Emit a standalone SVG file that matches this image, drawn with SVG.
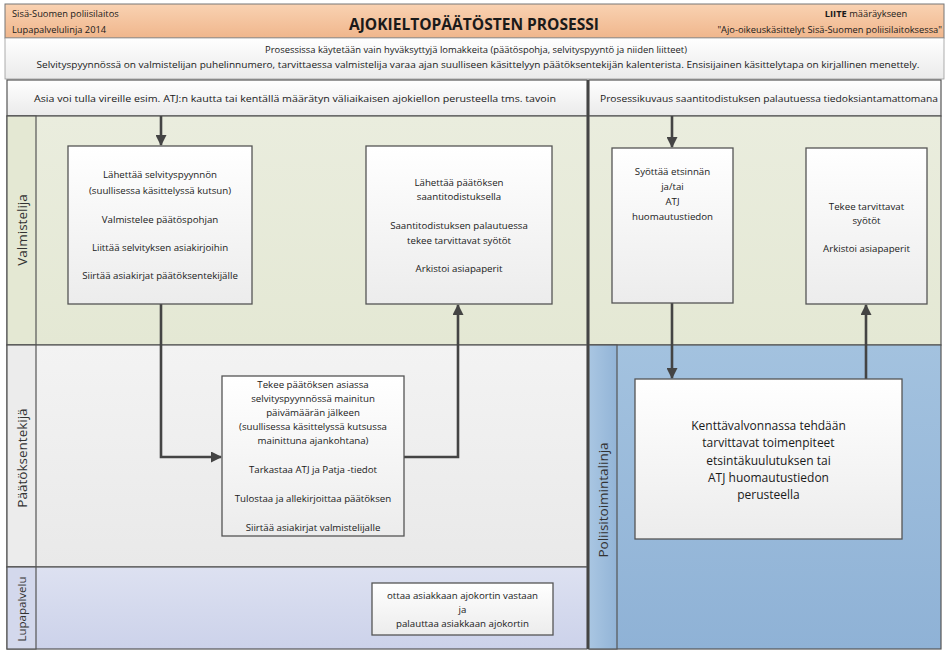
<svg xmlns="http://www.w3.org/2000/svg" width="945" height="652" viewBox="0 0 945 652">
<defs>
<linearGradient id="gHead" x1="0" y1="0" x2="0" y2="1"><stop offset="0" stop-color="#f9d2b2"/><stop offset="1" stop-color="#f0b68c"/></linearGradient>
<linearGradient id="gWhite" x1="0" y1="0" x2="0" y2="1"><stop offset="0" stop-color="#ffffff"/><stop offset="1" stop-color="#eaeaea"/></linearGradient>
<linearGradient id="gBox" x1="0" y1="0" x2="0" y2="1"><stop offset="0" stop-color="#ffffff"/><stop offset="1" stop-color="#ececec"/></linearGradient>
<linearGradient id="gGreen" x1="0" y1="0" x2="0" y2="1"><stop offset="0" stop-color="#eaedde"/><stop offset="1" stop-color="#e4e8d4"/></linearGradient>
<linearGradient id="gGrey" x1="0" y1="0" x2="0" y2="1"><stop offset="0" stop-color="#f3f3f3"/><stop offset="1" stop-color="#e9e9e9"/></linearGradient>
<linearGradient id="gLav" x1="0" y1="0" x2="0" y2="1"><stop offset="0" stop-color="#dde1f1"/><stop offset="1" stop-color="#ccd2ea"/></linearGradient>
<linearGradient id="gBlue" x1="0" y1="0" x2="0" y2="1"><stop offset="0" stop-color="#a3c2df"/><stop offset="1" stop-color="#8fb2d6"/></linearGradient>
<linearGradient id="gBlueL" x1="0" y1="0" x2="1" y2="0"><stop offset="0" stop-color="#a9c6e2"/><stop offset="1" stop-color="#92b4d7"/></linearGradient>
<marker id="arr" markerWidth="11" markerHeight="11" refX="10" refY="5.5" orient="auto" markerUnits="userSpaceOnUse"><path d="M0,0 L11,5.5 L0,11 z" fill="#444"/></marker>
<style>
text{font-family:"Open Sans","Noto Sans","DejaVu Sans",sans-serif;fill:#1a1a1a;}
.bx{fill:url(#gBox);stroke:#555;stroke-width:1.3;}
.t{font-size:9.7px;text-anchor:middle;}
.tb{font-size:12px;text-anchor:middle;}
.lane{stroke:#555;stroke-width:1.2;}
.lbl{font-size:13.5px;text-anchor:middle;fill:#333;}
.con{fill:none;stroke:#444;stroke-width:2.6;}
</style>
</defs>

<g id="header">
<rect x="5" y="4" width="939" height="34" fill="url(#gHead)" stroke="#777" stroke-width="1"/>
<text x="12" y="16.5" style="font-size:9.3px">Sisä-Suomen poliisilaitos</text>
<text x="12" y="32.5" style="font-size:9.3px">Lupapalvelulinja 2014</text>
<text x="474" y="30" style="font-size:16px;font-weight:bold;text-anchor:middle" textLength="250" lengthAdjust="spacingAndGlyphs">AJOKIELTOPÄÄTÖSTEN PROSESSI</text>
<text x="866" y="17" style="font-size:9.3px;text-anchor:middle"><tspan font-weight="bold">LIITE</tspan> määräykseen</text>
<text x="942" y="32.5" style="font-size:9.3px;text-anchor:end">"Ajo-oikeuskäsittelyt Sisä-Suomen poliisilaitoksessa"</text>
</g>

<g id="notes">
<rect x="5" y="38" width="939" height="41" fill="url(#gWhite)" stroke="#999" stroke-width="0.8"/>
<text x="476" y="52.5" style="font-size:8.3px;text-anchor:middle" textLength="422" lengthAdjust="spacingAndGlyphs">Prosessissa käytetään vain hyväksyttyjä lomakkeita (päätöspohja, selvityspyyntö ja niiden liitteet)</text>
<text x="478" y="67.5" style="font-size:8.3px;text-anchor:middle" textLength="883" lengthAdjust="spacingAndGlyphs">Selvityspyynnössä on valmistelijan puhelinnumero, tarvittaessa valmistelija varaa ajan suulliseen käsittelyyn päätöksentekijän kalenterista. Ensisijainen käsittelytapa on kirjallinen menettely.</text>
</g>

<g id="lanes">
<rect x="7" y="80" width="580" height="36" fill="url(#gWhite)" class="lane"/>
<text x="295" y="101.5" style="font-size:9.3px;text-anchor:middle" textLength="522" lengthAdjust="spacingAndGlyphs">Asia voi tulla vireille esim. ATJ:n kautta tai kentällä määrätyn väliaikaisen ajokiellon perusteella tms. tavoin</text>
<rect x="589" y="80" width="352" height="36" fill="url(#gWhite)" class="lane"/>
<text x="769" y="101.5" style="font-size:9.3px;text-anchor:middle" textLength="338" lengthAdjust="spacingAndGlyphs">Prosessikuvaus saantitodistuksen palautuessa tiedoksiantamattomana</text>

<rect x="7" y="116" width="580" height="229" fill="url(#gGreen)" class="lane"/>
<rect x="7" y="116" width="29" height="229" fill="#e4e8d3" class="lane"/>
<text class="lbl" transform="translate(26.5,230) rotate(-90)">Valmistelija</text>

<rect x="7" y="345" width="580" height="222" fill="url(#gGrey)" class="lane"/>
<rect x="7" y="345" width="29" height="222" fill="#ececec" class="lane"/>
<text class="lbl" transform="translate(26.5,458) rotate(-90)">Päätöksentekijä</text>

<rect x="7" y="567" width="580" height="82" fill="url(#gLav)" class="lane"/>
<rect x="7" y="567" width="29" height="82" fill="#d3d8ec" class="lane"/>
<text class="lbl" style="font-size:11.5px" transform="translate(25.5,609) rotate(-90)">Lupapalvelu</text>

<rect x="589" y="116" width="352" height="229" fill="url(#gGreen)" class="lane"/>
<rect x="589" y="345" width="352" height="304" fill="url(#gBlue)" class="lane"/>
<rect x="589" y="345" width="28" height="304" fill="url(#gBlueL)" class="lane"/>
<text class="lbl" transform="translate(607.5,500) rotate(-90)">Poliisitoimintalinja</text>
<line x1="588" y1="80" x2="588" y2="649" stroke="#444" stroke-width="2"/>
</g>

<g id="connectors">
<path class="con" d="M161,116 V145" marker-end="url(#arr)"/>
<path class="con" d="M161,304 V457 H221" marker-end="url(#arr)"/>
<path class="con" d="M404,457 H458 V305" marker-end="url(#arr)"/>
<path class="con" d="M672,116 V147" marker-end="url(#arr)"/>
<path class="con" d="M672,303 V378" marker-end="url(#arr)"/>
<path class="con" d="M866,379 V305" marker-end="url(#arr)"/>
</g>

<g id="node-valmistelija-1">
<rect class="bx" x="68" y="146" width="184" height="158"/>
<text class="t" x="160" y="177.5">Lähettää selvityspyynnön</text>
<text class="t" x="160" y="193.5">(suullisessa käsittelyssä kutsun)</text>
<text class="t" x="160" y="222.5">Valmistelee päätöspohjan</text>
<text class="t" x="160" y="250.5">Liittää selvityksen asiakirjoihin</text>
<text class="t" x="160" y="278.5">Siirtää asiakirjat päätöksentekijälle</text>
</g>

<g id="node-valmistelija-2">
<rect class="bx" x="366" y="146" width="186" height="158"/>
<text class="t" x="459" y="185.5">Lähettää päätöksen</text>
<text class="t" x="459" y="200">saantitodistuksella</text>
<text class="t" x="459" y="229">Saantitodistuksen palautuessa</text>
<text class="t" x="459" y="243.5">tekee tarvittavat syötöt</text>
<text class="t" x="459" y="271.5">Arkistoi asiapaperit</text>
</g>

<g id="node-paatoksentekija">
<rect class="bx" x="222" y="376" width="182" height="160"/>
<text class="t" x="313" y="387.5">Tekee päätöksen asiassa</text>
<text class="t" x="313" y="401.5">selvityspyynnössä mainitun</text>
<text class="t" x="313" y="415.5">päivämäärän jälkeen</text>
<text class="t" x="313" y="429.5">(suullisessa käsittelyssä kutsussa</text>
<text class="t" x="313" y="443.5">mainittuna ajankohtana)</text>
<text class="t" x="313" y="473">Tarkastaa ATJ ja Patja -tiedot</text>
<text class="t" x="313" y="501.5">Tulostaa ja allekirjoittaa päätöksen</text>
<text class="t" x="313" y="530.5">Siirtää asiakirjat valmistelijalle</text>
</g>

<g id="node-lupapalvelu">
<rect class="bx" x="372" y="583" width="181" height="52"/>
<text class="t" x="462.5" y="598.5">ottaa asiakkaan ajokortin vastaan</text>
<text class="t" x="462.5" y="612.5">ja</text>
<text class="t" x="462.5" y="626.5">palauttaa asiakkaan ajokortin</text>
</g>

<g id="node-oikea-1">
<rect class="bx" x="612" y="148" width="121" height="155"/>
<text class="t" x="672.5" y="174.5">Syöttää etsinnän</text>
<text class="t" x="672.5" y="190">ja/tai</text>
<text class="t" x="672.5" y="205">ATJ</text>
<text class="t" x="672.5" y="219.5">huomautustiedon</text>
</g>

<g id="node-oikea-2">
<rect class="bx" x="806" y="148" width="121" height="156"/>
<text class="t" x="866.5" y="209.5">Tekee tarvittavat</text>
<text class="t" x="866.5" y="223.5">syötöt</text>
<text class="t" x="866.5" y="251.5">Arkistoi asiapaperit</text>
</g>

<g id="node-poliisi">
<rect class="bx" x="635" y="379" width="267" height="160"/>
<text class="tb" x="768.5" y="430">Kenttävalvonnassa tehdään</text>
<text class="tb" x="768.5" y="447.3">tarvittavat toimenpiteet</text>
<text class="tb" x="768.5" y="464.6">etsintäkuulutuksen tai</text>
<text class="tb" x="768.5" y="481.9">ATJ huomautustiedon</text>
<text class="tb" x="768.5" y="499.2">perusteella</text>
</g>
</svg>
